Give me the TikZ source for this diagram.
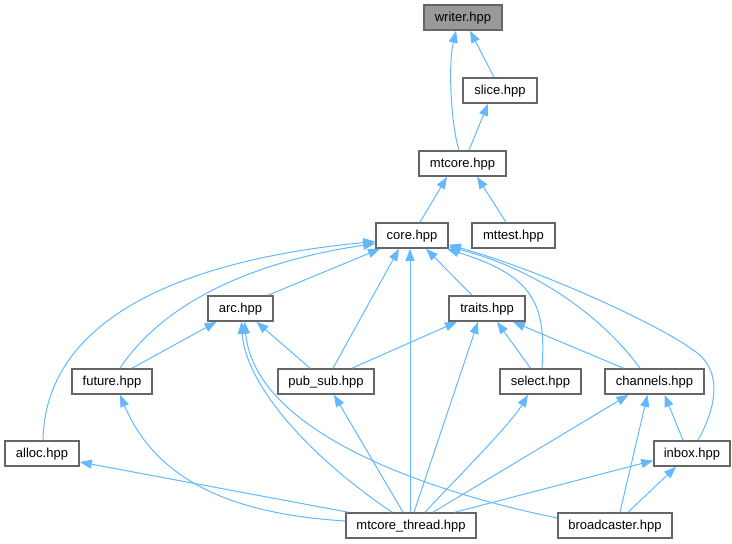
\documentclass[tikz,border=0pt]{standalone}
\usepackage{fontspec}
\setmainfont{Liberation Sans}
\usetikzlibrary{arrows.meta}
\definecolor{edgeblue}{HTML}{63B8FF}
\definecolor{boxgray}{HTML}{666666}
\definecolor{rootgray}{HTML}{999999}

\begin{document}
\begin{tikzpicture}[x=1pt,y=-1pt,
		file/.style={draw=boxgray, line width=1.6pt, minimum height=25pt, minimum width=#1, inner xsep=0pt, inner ysep=0pt, text height=9.5pt, text depth=1pt, font=\fontsize{13}{15}\selectfont},
		dep/.style={draw=edgeblue, line width=1pt, -{Triangle[length=12pt,width=9pt]}}]
			\useasboundingbox (0,0) rectangle (732,544);
			\node[file=78pt, fill=rootgray] (writer) at (463,17.5) {writer.hpp};
			\node[file=74pt] (slice) at (500,90.5) {slice.hpp};
			\node[file=87pt] (mtcore) at (462.5,163.5) {mtcore.hpp};
			\node[file=72pt] (core) at (412,235.5) {core.hpp};
			\node[file=83pt] (mttest) at (513.5,235.5) {mttest.hpp};
			\node[file=65pt] (arc) at (240.5,308.5) {arc.hpp};
			\node[file=76pt] (traits) at (487,308.5) {traits.hpp};
			\node[file=80pt] (future) at (112,381.5) {future.hpp};
			\node[file=96pt] (pub_sub) at (326,381.5) {pub\_sub.hpp};
			\node[file=81pt] (select) at (540.5,381.5) {select.hpp};
			\node[file=99pt] (channels) at (654.5,381.5) {channels.hpp};
			\node[file=74pt] (alloc) at (42,453.5) {alloc.hpp};
			\node[file=76pt] (inbox) at (692,453.5) {inbox.hpp};
			\node[file=130pt] (mtcore_thread) at (411,525.5) {mtcore\_thread.hpp};
			\node[file=114pt] (broadcaster) at (615,525.5) {broadcaster.hpp};
			
			\draw[dep] ([xshift=-3.5pt]mtcore.north) .. controls (451,125) and (448,65) .. ([xshift=-7pt]writer.south);
			\draw[dep] ([xshift=-6pt]slice.north) -- ([xshift=7pt]writer.south);
			\draw[dep] ([xshift=6.5pt]mtcore.north) -- ([xshift=-12pt]slice.south);
			\draw[dep] ([xshift=8pt]core.north) -- ([xshift=-15.5pt]mtcore.south);
			\draw[dep] ([xshift=-7.5pt]mttest.north) -- ([xshift=14.5pt]mtcore.south);
			\draw[dep] ([xshift=27.5pt]arc.north) -- ([xshift=-32pt]core.south);
			\draw[dep] ([xshift=1pt]alloc.north) .. controls (45,320) and (180,260) .. ([yshift=-6pt]core.west);
			\draw[dep] ([xshift=8pt]future.north) .. controls (155,315) and (230,265) .. ([yshift=-8pt]core.west);
			\draw[dep] ([xshift=7pt]pub_sub.north) -- ([xshift=-13pt]core.south);
			\draw[dep] ([xshift=-1pt]mtcore_thread.north) -- ([xshift=-2pt]core.south);
			\draw[dep] ([xshift=-15pt]traits.north) -- ([xshift=14pt]core.south);
			\draw[dep] ([xshift=1.5pt]select.north) .. controls (547,300) and (530,275) .. ([xshift=-2pt]core.south east);
			\draw[dep] ([xshift=-14.5pt]channels.north) .. controls (605,320) and (540,270) .. ([yshift=2pt]core.south east);
			\draw[dep] ([xshift=6pt]inbox.north) .. controls (715,410) and (725,370) .. (693,350) .. controls (660,325) and (540,270) .. ([yshift=4pt]core.south east);
			\draw[dep] ([xshift=20pt]future.north) -- ([xshift=-24pt]arc.south);
			\draw[dep] ([xshift=-16pt]pub_sub.north) -- ([xshift=16pt]arc.south);
			\draw[dep] ([xshift=-19pt]mtcore_thread.north) .. controls (300,450) and (245,380) .. ([xshift=1pt]arc.south);
			\draw[dep] ([yshift=7.5pt]broadcaster.west) .. controls (420,490) and (255,430) .. ([xshift=4pt]arc.south);
			\draw[dep] ([xshift=26pt]pub_sub.north) -- ([xshift=-30pt]traits.south);
			\draw[dep] ([xshift=3pt]mtcore_thread.north) -- ([xshift=-9pt]traits.south);
			\draw[dep] ([xshift=-10pt]select.north) -- ([xshift=10pt]traits.south);
			\draw[dep] ([xshift=-31pt]channels.north) -- ([xshift=26pt]traits.south);
			\draw[dep] ([yshift=4.5pt]mtcore_thread.west) .. controls (250,515) and (160,490) .. ([xshift=8pt]future.south);
			\draw[dep] ([xshift=-8pt]mtcore_thread.north) -- ([xshift=8pt]pub_sub.south);
			\draw[dep] ([xshift=14pt]mtcore_thread.north) .. controls (455,480) and (510,425) .. ([xshift=-12.5pt]select.south);
			\draw[dep] ([xshift=22pt]mtcore_thread.north) -- ([xshift=-26pt]channels.south);
			\draw[dep] ([xshift=5pt]broadcaster.north) -- ([xshift=-7pt]channels.south);
			\draw[dep] ([xshift=-9pt]inbox.north) -- ([xshift=10pt]channels.south);
			\draw[dep] ([xshift=3pt]mtcore_thread.north west) -- ([yshift=-8.5pt]alloc.east);
			\draw[dep] ([xshift=44pt]mtcore_thread.north) -- ([yshift=-7pt]inbox.west);
			\draw[dep] ([xshift=13pt]broadcaster.north) -- ([xshift=-16pt]inbox.south);
			
		\end{tikzpicture}
\end{document}
